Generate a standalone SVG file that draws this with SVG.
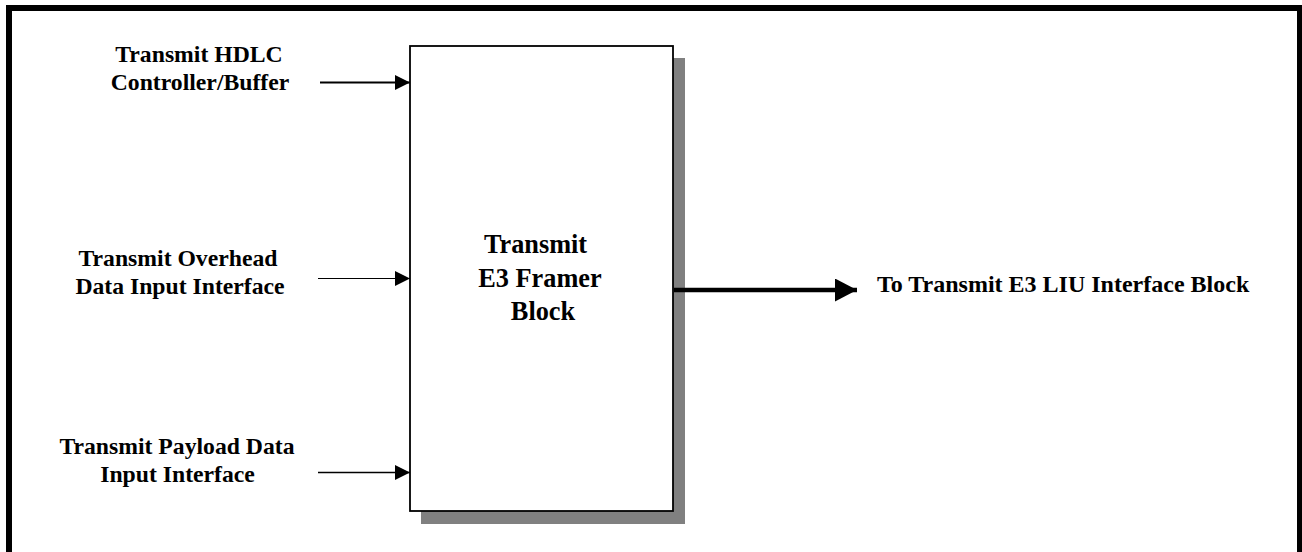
<svg xmlns="http://www.w3.org/2000/svg" width="1302" height="552" viewBox="0 0 1302 552">
<style>
text{font-family:"Liberation Serif","Times New Roman",serif;font-weight:bold;fill:#000}
.lbl{font-size:23.7px;text-anchor:middle}
.ttl{font-size:26.3px;text-anchor:middle}
.out{font-size:24px}
.conn{stroke:#000;fill:none}
</style>
<defs>
<marker id="ah" viewBox="0 0 15 15" refX="15" refY="7.5" markerWidth="15" markerHeight="15" markerUnits="userSpaceOnUse" orient="auto">
<path d="M0,0 L15,7.5 L0,15 Z" fill="#000"/>
</marker>
<marker id="ahb" viewBox="0 0 22 23" refX="22" refY="11.5" markerWidth="22" markerHeight="23" markerUnits="userSpaceOnUse" orient="auto">
<path d="M0,0 L22,11.5 L0,23 Z" fill="#000"/>
</marker>
</defs>
<rect x="0" y="0" width="1302" height="552" fill="#fff"/>
<rect id="frame" x="9" y="8" width="1291" height="560" fill="none" stroke="#000" stroke-width="6"/>
<g id="framer">
<rect x="421" y="58" width="264" height="466" fill="#808080"/>
<rect x="410" y="46" width="263" height="465" fill="#fff" stroke="#000" stroke-width="1.8"/>
<text class="ttl" x="535.5" y="253">Transmit</text>
<text class="ttl" x="540" y="287">E3 Framer</text>
<text class="ttl" x="543" y="320">Block</text>
</g>
<g id="hdlc">
<text class="lbl" x="199" y="62">Transmit HDLC</text>
<text class="lbl" x="200" y="90">Controller/Buffer</text>
</g>
<g id="overhead">
<text class="lbl" x="178" y="266">Transmit Overhead</text>
<text class="lbl" x="180" y="294">Data Input Interface</text>
</g>
<g id="payload">
<text class="lbl" x="177" y="454">Transmit Payload Data</text>
<text class="lbl" x="177.5" y="482">Input Interface</text>
</g>
<g id="liu">
<text class="out" x="877" y="292">To Transmit E3 LIU Interface Block</text>
</g>
<g id="connectors">
<line class="conn" x1="320" y1="82.5" x2="410" y2="82.5" stroke-width="2" marker-end="url(#ah)"/>
<line class="conn" x1="318" y1="278.5" x2="410" y2="278.5" stroke-width="1" marker-end="url(#ah)"/>
<line class="conn" x1="318" y1="472.5" x2="410" y2="472.5" stroke-width="1.5" marker-end="url(#ah)"/>
<line class="conn" x1="674" y1="290" x2="857" y2="290" stroke-width="4.5" marker-end="url(#ahb)"/>
</g>
</svg>
